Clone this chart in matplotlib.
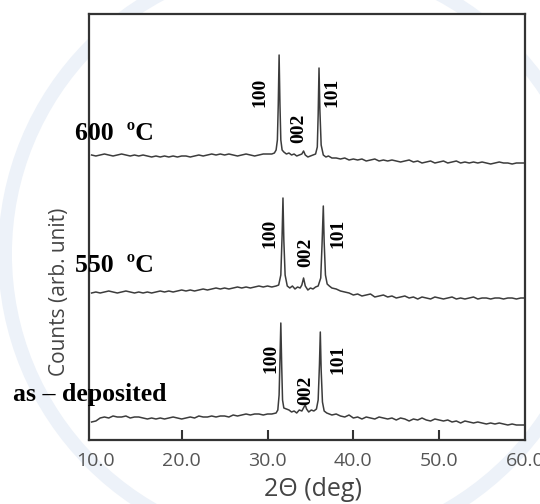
import numpy as np
import matplotlib
matplotlib.use("Agg")
import matplotlib.pyplot as plt
from matplotlib.patches import Circle

# 2-theta sampling used for the flat parts of every pattern
x_left = [9.5, 10.0, 10.5, 11.0, 11.5, 12.0, 12.5, 13.0, 13.5, 14.0, 14.5, 15.0,
          15.5, 16.0, 16.5, 17.0, 17.5, 18.0, 18.5, 19.0, 19.5, 20.0, 20.5, 21.0,
          21.5, 22.0, 22.5, 23.0, 23.5, 24.0, 24.5, 25.0, 25.5, 26.0, 26.5, 27.0,
          27.5, 28.0, 28.5, 29.0, 29.5, 30.0]
x_right = [38.0, 38.5, 39.0, 39.5, 40.0, 40.5, 41.0, 41.5, 42.0, 42.5, 43.0, 43.5,
           44.0, 44.5, 45.0, 45.5, 46.0, 46.5, 47.0, 47.5, 48.0, 48.5, 49.0, 49.5,
           50.0, 50.5, 51.0, 51.5, 52.0, 52.5, 53.0, 53.5, 54.0, 54.5, 55.0, 55.5,
           56.0, 56.5, 57.0, 57.5, 58.0, 58.5, 59.0, 59.5, 60.0]

# as-deposited
asdep_left = [18, 19, 22, 23, 22, 24, 23, 23, 24, 22, 23, 23, 22, 21, 22, 21, 22, 21,
              22, 23, 22, 21, 22, 23, 22, 24, 23, 23, 24, 23, 24, 24, 23, 25, 24, 25,
              26, 25, 26, 26, 25, 26]
asdep_px = [30.5, 31.0, 31.2, 31.35, 31.45, 31.55, 31.65, 31.75, 31.9, 32.2, 32.5, 32.8,
            33.1, 33.4, 33.7, 34.0, 34.25, 34.4, 34.55, 34.8, 35.1, 35.4, 35.7, 35.9,
            36.05, 36.15, 36.25, 36.4, 36.6, 36.9, 37.2, 37.5]
asdep_py = [26, 27, 30, 45, 80, 117, 75, 40, 32, 31, 30, 28, 29, 27, 30, 29, 33, 35,
            31, 28, 30, 29, 31, 40, 75, 108, 70, 38, 29, 27, 26, 25]
asdep_right = [26, 24, 23, 25, 22, 23, 21, 23, 22, 21, 23, 22, 21, 22, 20, 22, 21, 19,
               21, 20, 22, 20, 19, 21, 20, 19, 20, 18, 19, 17, 19, 18, 17, 18, 17, 16,
               17, 16, 17, 16, 15, 16, 15, 15, 15]

# 550 C
t550_left = [17, 18, 17, 18, 19, 18, 17, 18, 19, 18, 17, 18, 17, 18, 17, 18, 19, 18,
             19, 18, 19, 20, 19, 20, 19, 20, 21, 20, 21, 22, 21, 22, 21, 22, 23, 22,
             23, 22, 23, 24, 23, 24]
t550_px = [30.5, 31.0, 31.3, 31.55, 31.7, 31.8, 31.9, 32.05, 32.3, 32.6, 32.9, 33.2,
           33.5, 33.8, 34.0, 34.2, 34.4, 34.7, 35.0, 35.3, 35.6, 35.9, 36.2, 36.35,
           36.5, 36.6, 36.75, 36.95, 37.2, 37.5]
t550_py = [23, 24, 25, 35, 75, 112, 70, 35, 24, 22, 24, 21, 23, 22, 25, 32, 24, 20,
           22, 21, 23, 24, 32, 65, 104, 68, 35, 26, 24, 22]
t550_right = [21, 19, 18, 17, 15, 16, 14, 15, 16, 13, 14, 15, 13, 14, 12, 13, 14, 12,
              13, 11, 13, 12, 11, 13, 12, 11, 12, 13, 11, 12, 11, 12, 13, 11, 12, 12,
              11, 12, 12, 11, 12, 12, 11, 12, 12]

# 600 C
t600_left = [20, 19, 20, 21, 20, 19, 20, 21, 20, 19, 20, 19, 20, 19, 18, 19, 18, 19,
             18, 19, 18, 19, 19, 18, 19, 20, 19, 20, 21, 20, 21, 20, 21, 20, 19, 20,
             21, 20, 19, 20, 21, 21]
t600_px = [30.5, 30.8, 31.0, 31.15, 31.25, 31.35, 31.45, 31.55, 31.7, 31.9, 32.2, 32.5,
           32.8, 33.1, 33.4, 33.7, 34.0, 34.2, 34.4, 34.7, 35.0, 35.3, 35.6, 35.8,
           35.9, 36.0, 36.1, 36.25, 36.5, 36.8, 37.1, 37.5]
t600_py = [21, 22, 25, 35, 70, 120, 70, 35, 25, 23, 21, 22, 20, 21, 19, 20, 21, 24,
           20, 18, 19, 20, 21, 28, 60, 107, 65, 30, 20, 18, 19, 17]
t600_right = [17, 16, 17, 15, 16, 15, 16, 14, 15, 16, 14, 15, 14, 15, 14, 13, 14, 15,
              13, 14, 12, 13, 14, 12, 13, 14, 12, 13, 14, 12, 13, 12, 13, 12, 13, 12,
              11, 12, 13, 12, 12, 11, 12, 12, 12]

samples = ["as \u2013 deposited", "550  \u00baC", "600  \u00baC"]
offsets = [0, 130, 265]
sample_label_x = [0.3, 7.6, 7.6]
sample_label_y = [45, 175, 307]

hkl = ["100", "002", "101"]
hkl_x = [[30.4, 34.5, 38.25], [30.3, 34.5, 38.2], [29.15, 33.6, 37.55]]
hkl_y = [[82, 50, 81], [207, 188, 207], [348, 312, 348]]

xticks = [10, 20, 30, 40, 50, 60]
xtick_labels = ["10.0", "20.0", "30.0", "40.0", "50.0", "60.0"]

patterns = [
    (asdep_left, asdep_px, asdep_py, asdep_right),
    (t550_left, t550_px, t550_py, t550_right),
    (t600_left, t600_px, t600_py, t600_right),
]

fig = plt.figure(figsize=(5.4, 5.04), dpi=100)

# faint watermark ring, kept behind the axes
ring = Circle((300, 250), 295, transform=None, facecolor="none",
              edgecolor="#edf2f9", linewidth=10, zorder=-5)
fig.patches.append(ring)

ax = fig.add_axes([89 / 540, 1 - 440 / 504, 436 / 540, 426 / 504])
ax.set_zorder(1)
ax.set_xlim(9.2, 60.0)
ax.set_ylim(0, 426)

for i, (yl, xp, yp, yr) in enumerate(patterns):
    x = np.concatenate([x_left, xp, x_right])
    y = np.concatenate([yl, yp, yr]) + offsets[i]
    ax.plot(x, y, color="#3c3c3c", lw=1.1)
    ax.text(sample_label_x[i], sample_label_y[i], samples[i], ha="left", va="center",
            fontsize=18.5, fontweight="bold", family="Liberation Serif", clip_on=False)
    for j in range(3):
        ax.text(hkl_x[i][j], hkl_y[i][j], hkl[j], rotation=90, ha="center", va="center",
                fontsize=14, fontweight="bold", family="Liberation Serif")

for s in ax.spines.values():
    s.set_color("#333333")
    s.set_linewidth(1.6)

ax.set_xticks(xticks)
ax.set_xticklabels(xtick_labels)
ax.set_yticks([])
ax.tick_params(axis="x", direction="in", length=7, width=1.5, color="#333333",
               labelsize=14, labelcolor="#555555", pad=9)
for lab in ax.get_xticklabels():
    lab.set_family("Open Sans")
# end ticks sit on the frame, only their labels show
for t in (ax.xaxis.get_major_ticks()[0], ax.xaxis.get_major_ticks()[-1]):
    t.tick1line.set_visible(False)

ax.set_xlabel("2\u0398 (deg)", fontsize=18, color="#444444", family="Open Sans")
ax.xaxis.set_label_coords((313 - 89) / 436, -(490 - 440) / 426)
ax.set_ylabel("Counts (arb. unit)", fontsize=15, color="#444444", family="Open Sans")
ax.yaxis.set_label_coords((60 - 89) / 436, (440 - 292) / 426)
ax.xaxis.label.set_va("center")
ax.yaxis.label.set_va("center")

fig.savefig("out.png", dpi=100)
